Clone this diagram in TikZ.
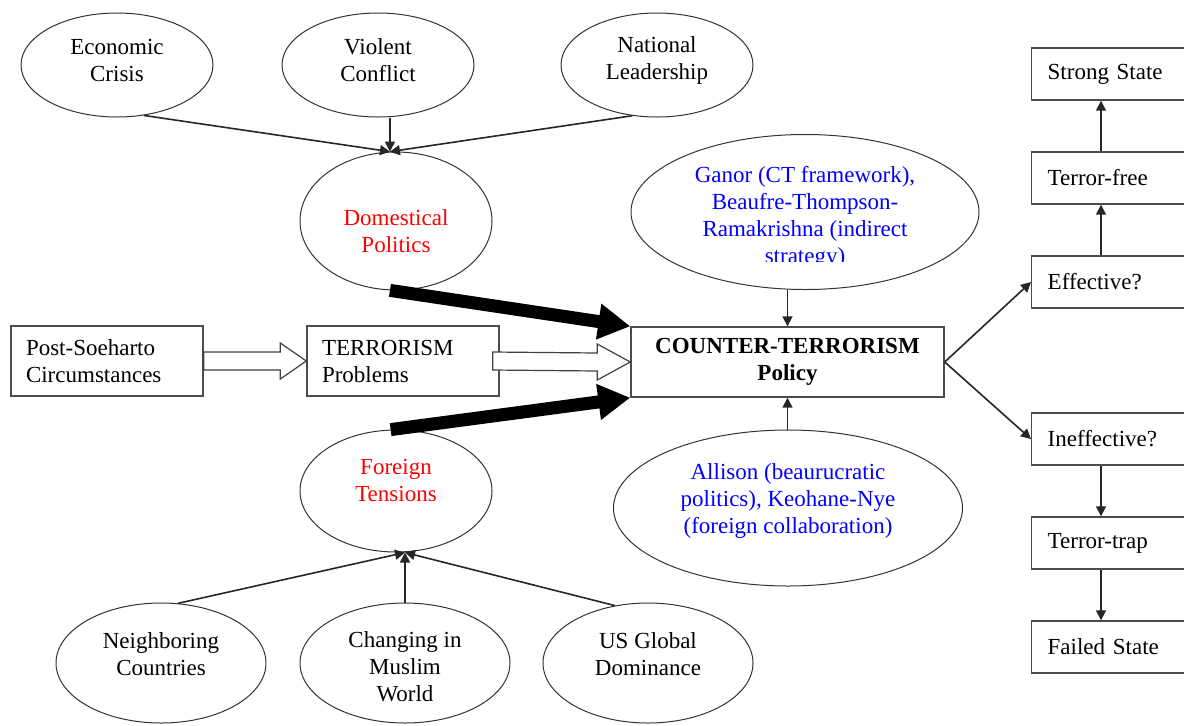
\documentclass[tikz,border=0pt]{standalone}
\usepackage{fontspec}
\setmainfont{Liberation Serif}
\usetikzlibrary{arrows.meta,calc,shapes.geometric}

\begin{document}
\begin{tikzpicture}[x=0.5pt, y=-0.5pt,
	font=\fontsize{11.5}{13.5}\selectfont,
	oval/.style={ellipse, draw=black!80, line width=0.5pt, inner sep=0pt, align=center},
	say/.style n args={3}{label={[align=center, yshift=#1, text=#2]center:#3}},
	box/.style={rectangle, draw=black!70, line width=0.7pt, inner xsep=7.5pt, inner ysep=0pt, minimum height=35pt, text width=81pt, align=left},
	side/.style={rectangle, draw=black!70, line width=0.7pt, inner xsep=8pt, inner ysep=0pt, minimum height=26pt, text width=68.5pt, align=left, anchor=west},
	arr/.style={-{Triangle[length=5pt,width=5pt]}, line width=0.8pt, black!85},
	fat/.style={-{Triangle[length=16pt,width=17pt]}, line width=6.5pt},
	hollow/.style={draw=black!75, fill=white, line width=0.6pt}]
\useasboundingbox (0,0) rectangle (1184,725);

\foreach \n / \x / \t in {eco/117/{Economic\\Crisis}, vio/378/{Violent\\Conflict}, nat/657/{National\\Leadership}} {
	\node[oval, minimum width=96pt, minimum height=52pt, say={2.5pt}{black}{\t}] (\n) at (\x,65) {};
}
\foreach \n / \x / \s / \t in {nei/161/4.5pt/{Neighboring\\Countries}, chg/405/-2pt/{Changing in\\Muslim\\World}, usg/648/4.5pt/{US Global\\Dominance}} {
	\node[oval, minimum width=105pt, minimum height=60pt, say={\s}{black}{\t}] (\n) at (\x,663) {};
}
\node[oval, minimum width=96pt, minimum height=69pt, say={-5pt}{red}{Domestical\\Politics}] (dom) at (396,221) {};
\node[oval, minimum width=96pt, minimum height=61pt, say={5.5pt}{red}{Foreign\\Tensions}] (for) at (396,491) {};

\node[box] (post) at (107,361) {Post-Soeharto\\Circumstances};
\node[box] (ter) at (403,361) {TERRORISM\\Problems};
\node[box, text width=141.5pt, align=center, font=\fontsize{11.5}{13.5}\selectfont\bfseries] (ct) at (787.5,362) {COUNTER-TERRORISM\\Policy};

\node[oval, minimum width=174pt, minimum height=77.5pt] (ganor) at (805,212) {};
\begin{scope}
	\clip (620,140) rectangle (990,261);
	\node[align=center, text=blue] at (805,217) {Ganor (CT framework),\\Beaufre-Thompson-\\Ramakrishna (indirect\\strategy)};
\end{scope}
\node[oval, minimum width=174.5pt, minimum height=78pt, say={3.5pt}{blue}{Allison (beaurucratic\\politics), Keohane-Nye\\(foreign collaboration)}] (all) at (788,508) {};

\foreach \n / \y / \t in {strong/74/Strong State, tfree/178/Terror-free, eff/282/Effective?, ineff/439/Ineffective?, trap/543/Terror-trap, failed/647/Failed State} {
	\node[side] (\n) at (1031,\y) {\t};
}
\coordinate (col) at (1101,0);

\draw[arr] (eco.-62) -- (dom.95);
\draw[arr] (vio.south -| dom.95) -- (dom.95);
\draw[arr] (nat.-116) -- (dom.95);
\draw[arr] (nei.74) -- (chg.north |- for.south);
\draw[arr] (chg.north) -- (chg.north |- for.south);
\draw[arr] (usg.120) -- (chg.north |- for.south);

\draw[fat] (dom.-95) -- (ct.north west);
\draw[fat] (for.95) -- (ct.south west);

\draw[hollow] ($(post.east)+(0,-9)$) -- ($(ter.west)+(-26,-9)$) -- ++(0,-9) -- (ter.west) -- ($(ter.west)+(-26,18)$) -- ++(0,-9) -- ($(post.east)+(0,9)$) -- cycle;
\draw[hollow] ($(ter.east)+(-7,-9)$) -- ($(ct.west)+(-33,-9)$) -- ++(0,-9) -- (ct.west) -- ($(ct.west)+(-33,18)$) -- ++(0,-9) -- ($(ter.east)+(-7,9)$) -- cycle;

\draw[arr] (ganor.south -| ct.north) -- (ct.north);
\draw[arr] (all.north -| ct.south) -- (ct.south);
\draw[arr] (ct.east) -- (eff.west);
\draw[arr] (ct.east) -- (ineff.west);

\draw[arr] (eff.north -| col) -- (tfree.south -| col);
\draw[arr] (tfree.north -| col) -- (strong.south -| col);
\draw[arr] (ineff.south -| col) -- (trap.north -| col);
\draw[arr] (trap.south -| col) -- (failed.north -| col);
\end{tikzpicture}
\end{document}
